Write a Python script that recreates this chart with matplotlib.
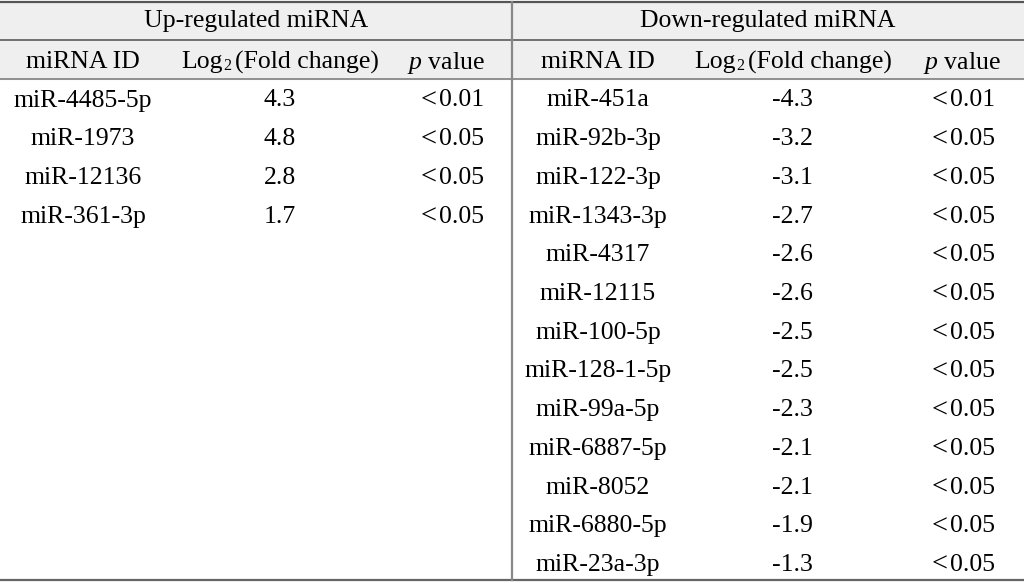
import matplotlib.pyplot as plt

plt.rcParams['font.family'] = ['Liberation Serif', 'DejaVu Serif']
plt.rcParams['mathtext.fontset'] = 'custom'
plt.rcParams['mathtext.rm'] = 'Liberation Serif'
plt.rcParams['mathtext.it'] = 'Liberation Serif:italic'

up_ids = ['miR-4485-5p', 'miR-1973', 'miR-12136', 'miR-361-3p']
up_fc = ['4.3', '4.8', '2.8', '1.7']
up_p = ['<0.01', '<0.05', '<0.05', '<0.05']

down_ids = ['miR-451a', 'miR-92b-3p', 'miR-122-3p', 'miR-1343-3p', 'miR-4317',
            'miR-12115', 'miR-100-5p', 'miR-128-1-5p', 'miR-99a-5p',
            'miR-6887-5p', 'miR-8052', 'miR-6880-5p', 'miR-23a-3p']
down_fc = ['-4.3', '-3.2', '-3.1', '-2.7', '-2.6', '-2.6', '-2.5', '-2.5',
           '-2.3', '-2.1', '-2.1', '-1.9', '-1.3']
down_p = ['<0.01'] + ['<0.05'] * 12

W, H = 1024, 583
fig = plt.figure(figsize=(W / 100, H / 100), dpi=100)
ax = fig.add_axes([0, 0, 1, 1])
ax.set_xlim(0, W)
ax.set_ylim(H, 0)
ax.axis('off')

fs = 18.5
top, h1, h2, bottom = 1.5, 40, 79, 580
row_h = 38.7
first_row = 98

# header background
ax.fill_between([0, W], top, h2, color='#efefef', zorder=0)

# rules
ax.plot([0, W], [top, top], color='#555555', lw=1.6)
ax.plot([0, W], [h1, h1], color='#666666', lw=1.3)
ax.plot([0, W], [h2, h2], color='#888888', lw=1.3)
ax.plot([0, W], [bottom, bottom], color='#666666', lw=1.6)
ax.plot([512, 512], [top, bottom], color='#888888', lw=1.6)

ax.text(256, 20.5, 'Up-regulated miRNA', ha='center', va='center', fontsize=fs)
ax.text(768, 20.5, 'Down-regulated miRNA', ha='center', va='center', fontsize=fs)

left_x = [83, 280, 450]
right_x = [598, 792, 961]
for xs, split, px in ((left_x, 223, 446), (right_x, 736, 962)):
    ax.text(xs[0], 59.5, 'miRNA ID', ha='center', va='center_baseline', fontsize=fs)
    ax.text(split, 59.5, 'Log', ha='right', va='center_baseline', fontsize=fs)
    ax.text(split, 64, '2', ha='left', va='center_baseline', fontsize=fs - 7)
    ax.text(split + 12, 59.5, '(Fold change)', ha='left', va='center_baseline', fontsize=fs)
    ax.text(px, 59.5, '$\\mathit{p}$ value', ha='center', va='center_baseline', fontsize=fs)

for cols, xs in (((up_ids, up_fc, up_p), left_x), ((down_ids, down_fc, down_p), right_x)):
    for c, x in zip(cols, xs):
        for i, t in enumerate(c):
            y = first_row + i * row_h
            if t.startswith('<'):
                # the "<" sits apart from the number, as in the source
                ax.text(x - 13, y, '<', ha='right', va='center_baseline', fontsize=fs + 2)
                ax.text(x - 11, y, t[1:], ha='left', va='center_baseline', fontsize=fs)
            else:
                ax.text(x, y, t, ha='center', va='center_baseline', fontsize=fs)

plt.savefig('out.png', dpi=100)
